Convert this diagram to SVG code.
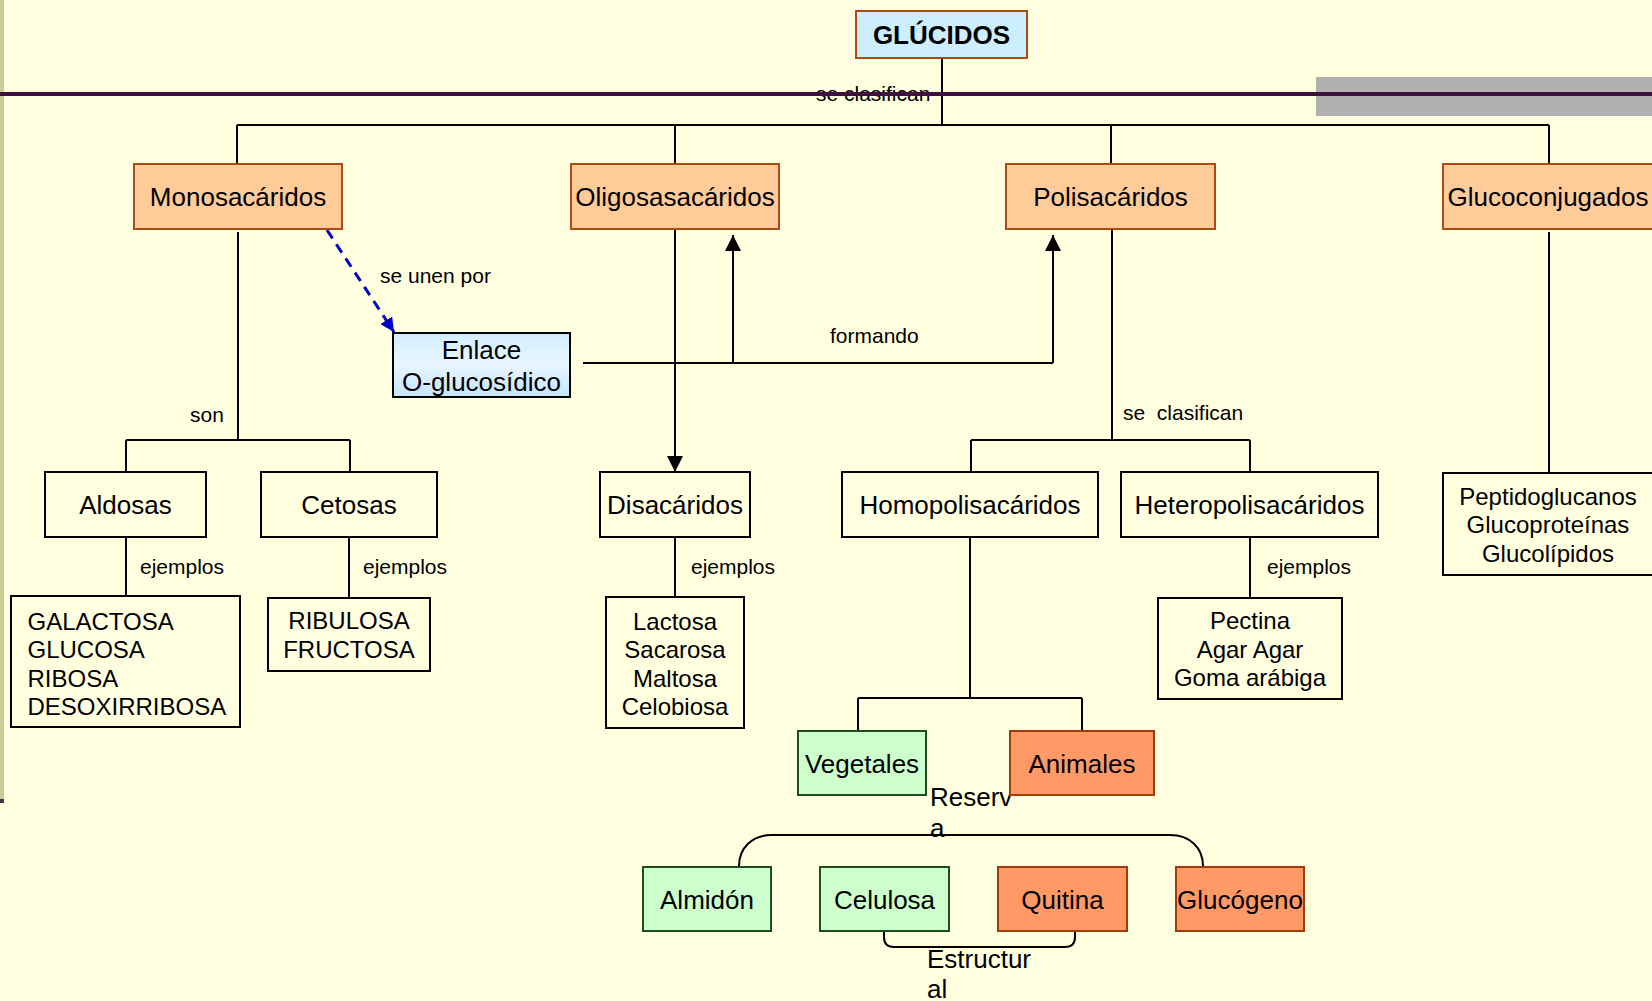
<svg xmlns="http://www.w3.org/2000/svg" width="1652" height="1001" viewBox="0 0 1652 1001">
<defs>
<style>
text{font-family:"Liberation Sans",Arial,sans-serif;fill:#000}
.lbl{font-size:26px;text-anchor:middle}
.item{font-size:24px}
.c{text-anchor:middle}
.cl{font-size:21px}
.ln{fill:none;stroke:#000;stroke-width:2}
.box{fill:none;stroke:#000;stroke-width:2}
.org{fill:#ffcc99;stroke:#b04a14;stroke-width:2}
.grn{fill:#ccffcc;stroke:#1d4d1d;stroke-width:2}
.red{fill:#ff9966;stroke:#a33a0c;stroke-width:2}
</style>
<linearGradient id="gb" x1="0" y1="0" x2="0" y2="1">
<stop offset="0" stop-color="#d2edff"/>
<stop offset="0.5" stop-color="#e8f6ff"/>
<stop offset="1" stop-color="#c4e4ff"/>
</linearGradient>
<marker id="ah" viewBox="0 0 10 10" refX="10" refY="5" markerWidth="16" markerHeight="16" markerUnits="userSpaceOnUse" orient="auto">
<path d="M0,0 L10,5 L0,10 z" fill="#000"/>
</marker>
<marker id="ahb" viewBox="0 0 10 10" refX="10" refY="5" markerWidth="14" markerHeight="14" markerUnits="userSpaceOnUse" orient="auto">
<path d="M0,0 L10,5 L0,10 z" fill="#0000cc"/>
</marker>
</defs>
<rect x="0" y="0" width="1652" height="1001" fill="#ffffe0"/>
<rect x="0" y="0" width="4" height="799" fill="#cccc99"/>
<rect x="0" y="799" width="4" height="4" fill="#4a3040"/>
<rect x="1316" y="77" width="336" height="39" fill="#b0b0b0"/>

<g id="connectors">
<path class="ln" d="M942,58 V125 M237,125 H1549 M237,125 V164 M675,125 V164 M1111,125 V164 M1549,125 V164"/>
<path class="ln" d="M238,232 V440 M126,440 H350 M126,440 V472 M350,440 V472 M126,537 V596 M349,537 V598"/>
<path d="M327,230 L394,332" fill="none" stroke="#0000cc" stroke-width="3" stroke-dasharray="10,7" marker-end="url(#ahb)"/>
<path class="ln" d="M675,229 V472" marker-end="url(#ah)"/>
<path class="ln" d="M583,363 H1053"/>
<path class="ln" d="M733,363 V235" marker-end="url(#ah)"/>
<path class="ln" d="M1053,363 V235" marker-end="url(#ah)"/>
<path class="ln" d="M675,537 V597"/>
<path class="ln" d="M1112,229 V440 M971,440 H1250 M971,440 V472 M1250,440 V472 M1250,537 V598"/>
<path class="ln" d="M1549,232 V473"/>
<path class="ln" d="M970,537 V698 M858,698 H1082 M858,698 V731 M1082,698 V731"/>
<path class="ln" d="M739,866 C739,848 752,835 772,835 L1170,835 C1190,835 1203,848 1203,866"/>
<path class="ln" d="M884,931 L884,937 Q884,947 894,947 L1065,947 Q1075,947 1075,937 L1075,931"/>
</g>

<g id="connector-labels" class="cl">
<text x="816" y="101">se clasifican</text>
<text x="380" y="283">se unen por</text>
<text x="190" y="422">son</text>
<text x="830" y="343">formando</text>
<text x="1123" y="420" xml:space="preserve">se  clasifican</text>
<text x="140" y="574">ejemplos</text>
<text x="363" y="574">ejemplos</text>
<text x="691" y="574">ejemplos</text>
<text x="1267" y="574">ejemplos</text>
</g>
<g id="label-reserva" style="font-size:26px">
<text x="930" y="806">Reserv</text>
<text x="930" y="837">a</text>
</g>
<g id="label-estructural" style="font-size:26px">
<text x="927" y="968">Estructur</text>
<text x="927" y="998">al</text>
</g>

<rect x="0" y="92" width="1652" height="4" fill="#3f0f3f"/>

<g id="glucidos"><rect x="856" y="11" width="171" height="47" fill="#cceeff" stroke="#b04a14" stroke-width="2"/><text class="lbl" x="941.5" y="44" font-weight="bold">GLÚCIDOS</text></g>
<g id="monosacaridos"><rect class="org" x="134" y="164" width="208" height="65"/><text class="lbl" x="238" y="206">Monosacáridos</text></g>
<g id="oligosacaridos"><rect class="org" x="571" y="164" width="208" height="65"/><text class="lbl" x="675" y="206">Oligosasacáridos</text></g>
<g id="polisacaridos"><rect class="org" x="1006" y="164" width="209" height="65"/><text class="lbl" x="1110.5" y="206">Polisacáridos</text></g>
<g id="glucoconjugados"><rect class="org" x="1443" y="164" width="212" height="65"/><text class="lbl" x="1548" y="206">Glucoconjugados</text></g>
<g id="enlace"><rect x="393" y="333" width="177" height="64" fill="url(#gb)" stroke="#000" stroke-width="2"/><text class="lbl" x="481.5" y="359">Enlace</text><text class="lbl" x="481.5" y="391">O-glucosídico</text></g>
<g id="aldosas"><rect class="box" x="45" y="472" width="161" height="65"/><text class="lbl" x="125.5" y="514">Aldosas</text></g>
<g id="cetosas"><rect class="box" x="261" y="472" width="176" height="65"/><text class="lbl" x="349" y="514">Cetosas</text></g>
<g id="disacaridos"><rect class="box" x="600" y="472" width="150" height="65"/><text class="lbl" x="675" y="514">Disacáridos</text></g>
<g id="homopolisacaridos"><rect class="box" x="842" y="472" width="256" height="65"/><text class="lbl" x="970" y="514">Homopolisacáridos</text></g>
<g id="heteropolisacaridos"><rect class="box" x="1121" y="472" width="257" height="65"/><text class="lbl" x="1249.5" y="514">Heteropolisacáridos</text></g>
<g id="glucoconjugados-ejemplos"><rect class="box" x="1443" y="473" width="212" height="102"/>
<text class="item c" x="1548" y="505">Peptidoglucanos</text><text class="item c" x="1548" y="533">Glucoproteínas</text><text class="item c" x="1548" y="562">Glucolípidos</text></g>
<g id="aldosas-ejemplos"><rect class="box" x="11" y="596" width="229" height="131"/>
<text class="item" x="27.5" y="629.5">GALACTOSA</text><text class="item" x="27.5" y="658">GLUCOSA</text><text class="item" x="27.5" y="686.5">RIBOSA</text><text class="item" x="27.5" y="714.5">DESOXIRRIBOSA</text></g>
<g id="cetosas-ejemplos"><rect class="box" x="268" y="598" width="162" height="73"/>
<text class="item c" x="349" y="629">RIBULOSA</text><text class="item c" x="349" y="658">FRUCTOSA</text></g>
<g id="disacaridos-ejemplos"><rect class="box" x="606" y="597" width="138" height="131"/>
<text class="item c" x="675" y="629.5">Lactosa</text><text class="item c" x="675" y="658">Sacarosa</text><text class="item c" x="675" y="686.5">Maltosa</text><text class="item c" x="675" y="715">Celobiosa</text></g>
<g id="hetero-ejemplos"><rect class="box" x="1158" y="598" width="184" height="101"/>
<text class="item c" x="1250" y="629">Pectina</text><text class="item c" x="1250" y="658">Agar Agar</text><text class="item c" x="1250" y="686">Goma arábiga</text></g>
<g id="vegetales"><rect class="grn" x="798" y="731" width="128" height="64"/><text class="lbl" x="862" y="773">Vegetales</text></g>
<g id="animales"><rect class="red" x="1010" y="731" width="144" height="64"/><text class="lbl" x="1082" y="773">Animales</text></g>
<g id="almidon"><rect class="grn" x="643" y="867" width="128" height="64"/><text class="lbl" x="707" y="909">Almidón</text></g>
<g id="celulosa"><rect class="grn" x="820" y="867" width="129" height="64"/><text class="lbl" x="884.5" y="909">Celulosa</text></g>
<g id="quitina"><rect class="red" x="998" y="867" width="129" height="64"/><text class="lbl" x="1062.5" y="909">Quitina</text></g>
<g id="glucogeno"><rect class="red" x="1176" y="867" width="128" height="64"/><text class="lbl" x="1240" y="909">Glucógeno</text></g>
</svg>
